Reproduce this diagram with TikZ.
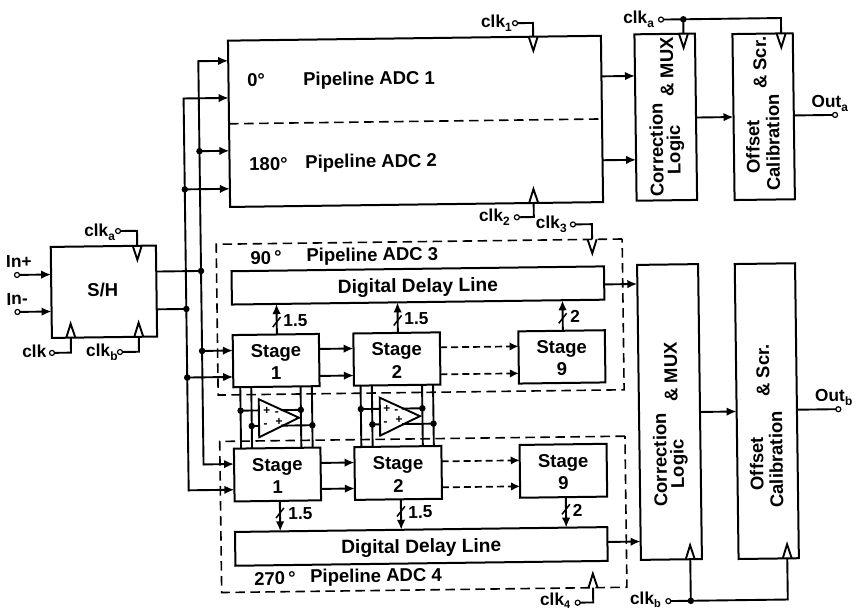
\documentclass[tikz,border=0pt]{standalone}
\usepackage{fontspec}
\setmainfont{Liberation Sans}
\usetikzlibrary{arrows.meta}
\newcommand\lowsub[1]{\raisebox{-4.5pt}{\fontsize{12}{12}\selectfont #1}}
\newcommand\lowsubb[1]{\raisebox{-3pt}{\fontsize{11}{11}\selectfont #1}}
\tikzset{
  wire/.style={line width=1.9pt},
  arr/.style={wire,-{Latex[length=10pt,width=8.5pt]}},
  darr/.style={line width=1.7pt,dash pattern=on 7pt off 4pt,-{Latex[length=9pt,width=8.5pt]}},
  blk/.style={draw,line width=2pt,inner sep=0pt,outer sep=0pt},
  stg/.style={inner sep=0pt,font=\fontsize{18.5}{22.5}\selectfont\bfseries,align=center},
  dashb/.style={line width=1.6pt,dash pattern=on 9.5pt off 5.5pt},
  dot/.style={circle,fill=black,inner sep=0pt,minimum size=6.5pt},
  term/.style={circle,draw,fill=white,line width=1.2pt,inner sep=0pt,minimum size=5pt,outer sep=0pt},
  lbl/.style={inner sep=0pt,font=\fontsize{18.5}{20}\selectfont\bfseries},
  ddl/.style={inner sep=0pt,font=\fontsize{19.2}{20}\selectfont\bfseries},
  sml/.style={inner sep=0pt,anchor=base west,font=\fontsize{17.3}{20}\selectfont\bfseries},
  vtxt/.style={inner sep=0pt,rotate=90,font=\fontsize{18.5}{20}\selectfont\bfseries},
  pm/.style={inner sep=0pt,font=\fontsize{12}{12}\selectfont\bfseries},
}
% open clock triangles: at named point, pointing down or up
\newcommand\clkdn[1]{\draw[wire,line join=miter] ([xshift=-4.5pt]#1) -- ([yshift=-14pt]#1) -- ([xshift=4.5pt]#1);}
\newcommand\clkup[1]{\draw[wire,line join=miter] ([xshift=-4.5pt]#1) -- ([yshift=14pt]#1) -- ([xshift=4.5pt]#1);}
\newcommand\tick[2]{\draw[line width=1.5pt] (#1-4,#2+5) -- (#1+4,#2-5);}
\begin{document}
\begin{tikzpicture}[x=1pt,y=-1pt]
\useasboundingbox (0,0) rectangle (857,610);
\begin{scope}[rotate around={0.745:(430,305)},transform shape]
% blocks: centre, size
\node[blk,minimum width=105.2pt,minimum height=91pt] (sh) at (104.1,287.5) {};
\node[lbl] at (103,286) {S/H};
\node[blk,minimum width=373pt,minimum height=166.3pt] (adc) at (417.9,121.2) {};
\node[blk,minimum width=372.5pt,minimum height=33.3pt] (ddu) at (418.2,285.3) {};
\node[blk,minimum width=372.3pt,minimum height=33.8pt] (ddl) at (418.2,546.3) {};
\node[blk,minimum width=86.2pt,minimum height=52.2pt] (s1u) at (275.4,358.6) {};
\node[blk,minimum width=86.5pt,minimum height=52.2pt] (s2u) at (396.2,358.6) {};
\node[blk,minimum width=86.5pt,minimum height=52.2pt] (s9u) at (561.2,358.6) {};
\node[blk,minimum width=86.5pt,minimum height=52.8pt] (s1l) at (275.3,472.5) {};
\node[blk,minimum width=87pt,minimum height=52.8pt] (s2l) at (396,472.5) {};
\node[blk,minimum width=87pt,minimum height=52.8pt] (s9l) at (561.2,472.5) {};
\node[stg] at ([yshift=-1.4pt]s1u.center) {Stage\\1};
\node[stg] at ([yshift=-1.4pt]s2u.center) {Stage\\2};
\node[stg] at ([yshift=-1.4pt]s9u.center) {Stage\\9};
\node[stg] at ([yshift=-1.4pt]s1l.center) {Stage\\1};
\node[stg] at ([yshift=-1.4pt]s2l.center) {Stage\\2};
\node[stg] at ([yshift=-1.4pt]s9l.center) {Stage\\9};
\node[blk,minimum width=60.5pt,minimum height=166.4pt] (cora) at (668.2,120.2) {};
\node[blk,minimum width=60.3pt,minimum height=166pt] (ofsa) at (766.1,121) {};
\node[blk,minimum width=61pt,minimum height=295pt] (corb) at (668.1,415.1) {};
\node[blk,minimum width=60.3pt,minimum height=295pt] (ofsb) at (765.4,415.5) {};
% dashed boxes
\node[draw,dashb,minimum width=406pt,minimum height=150.8pt,inner sep=0pt,outer sep=0pt] (adc3) at (420,316.9) {};
\node[draw,dashb,minimum width=405.3pt,minimum height=151.1pt,inner sep=0pt,outer sep=0pt] (adc4) at (420.6,514.25) {};
\draw[dashb] (adc.west) -- (adc.east);
% texts
\node[lbl,anchor=west] at (250,78) {0°};
\node[lbl,anchor=west] at (306,79.5) {Pipeline ADC 1};
\node[lbl,anchor=west] at (251,162) {180°};
\node[lbl,anchor=west] at (307,162) {Pipeline ADC 2};
\node[lbl,anchor=west] at (251,255.5) {90\,°};
\node[lbl,anchor=west] at (307,255.5) {Pipeline ADC 3};
\node[lbl,anchor=west] at (250.5,576.5) {270\,°};
\node[lbl,anchor=west] at (306.5,576.5) {Pipeline ADC 4};
\node[ddl] at ([yshift=-2pt]ddu.center) {Digital Delay Line};
\node[ddl] at ([yshift=-1.5pt]ddl.center) {Digital Delay Line};
\node[vtxt] at (658.5,153) {Correction};
\node[vtxt] at (677.5,153) {Logic};
\node[vtxt] at (670,70) {\&~MUX};
\node[vtxt] at (755,151) {Offset};
\node[vtxt] at (775,147) {Calibration};
\node[vtxt] at (763,67) {\&~Scr.};
\node[vtxt] at (658,463) {Correction};
\node[vtxt] at (677,467) {Logic};
\node[vtxt] at (670,375) {\&~MUX};
\node[vtxt] at (754.6,468) {Offset};
\node[vtxt] at (774,464) {Calibration};
\node[vtxt] at (762,375) {\&~Scr.};
\node[sml] at (6.5,262) {In+};
\node[sml] at (6.5,299.5) {In-};
\node[sml] at (85,231.7) {clk\lowsub{a}};
\node[sml] at (21.5,352) {clk};
\node[sml] at (85.3,351.8) {clk\lowsub{b}};
\node[sml] at (484.5,28) {clk\lowsub{1}};
\node[sml] at (480,222.4) {clk\lowsub{2}};
\node[sml] at (536.7,229.7) {clk\lowsub{3}};
\node[sml] at (536,607.4) {clk\lowsubb{4}};
\node[sml] at (626.7,25.8) {clk\lowsub{a}};
\node[sml] at (626,607) {clk\lowsubb{b}};
\node[sml] at (814,112.3) {Out\lowsub{a}};
\node[sml] at (813.7,406.7) {Out\lowsub{b}};
\node[sml,anchor=west] at (283,318.5) {1.5};
\node[sml,anchor=west] at (404,318.5) {1.5};
\node[sml,anchor=center] at (575,318.5) {2};
\node[sml,anchor=west] at (285.5,512) {1.5};
\node[sml,anchor=west] at (405.5,512) {1.5};
\node[sml,anchor=center] at (575,512) {2};
% terminals
\node[term] (inp) at (17.4,269.6) {};
\node[term] (inm) at (17.4,306.6) {};
\node[term] (tca) at (119,227) {};
\node[term] (tc) at (51.4,348) {};
\node[term] (tcb) at (119.4,348) {};
\node[term] (tc1) at (518.7,24.3) {};
\node[term] (tc2) at (518,218.4) {};
\node[term] (tc3) at (574,226.3) {};
\node[term] (tc4) at (573.8,604.6) {};
\node[term] (tcA) at (664.7,22.6) {};
\node[term] (tcB) at (664.5,604.2) {};
\node[term] (toa) at (837.5,120.2) {};
\node[term] (tob) at (837,414.5) {};
% S/H connections
\coordinate (shi1) at (51.5,269.6); \coordinate (shi2) at (51.5,306.6);
\draw[arr] (inp) -- (shi1);
\draw[arr] (inm) -- (shi2);
\coordinate (shca) at (138,242); \coordinate (shc) at (70.4,333); \coordinate (shcb) at (138.4,333);
\draw[wire] (tca) -| (shca); \clkdn{shca}
\draw[wire] (tc) -| (shc); \clkup{shc}
\draw[wire] (tcb) -| (shcb); \clkup{shcb}
\node[dot] (dr) at (201.5,268) {};
\node[dot] (dl) at (186.3,305.8) {};
\coordinate (sho1) at (156.7,268); \coordinate (sho2) at (156.7,305.8);
\draw[wire] (sho1) -- (dr.center);
\draw[wire] (sho2) -- (dl.center);
% buses
\node[dot] (dr1) at (201.5,148.2) {};
\node[dot] (dl1) at (186.3,186.2) {};
\node[dot] (dr2) at (201.5,348) {};
\node[dot] (dl2) at (186.3,374.4) {};
\coordinate (a1) at (231.4,58.2); \coordinate (a2) at (231.4,95.3);
\coordinate (a3) at (231.4,148.2); \coordinate (a4) at (231.4,186.2);
\coordinate (br) at (201.5,58.2); \coordinate (bl) at (186.3,95.3);
\coordinate (i1) at (232.3,348); \coordinate (i2) at (232.3,374.4);
\coordinate (i3) at (232,461.5); \coordinate (i4) at (232,487.2);
\coordinate (brb) at (201.5,461.5); \coordinate (blb) at (186.3,487.2);
\draw[arr] (brb) -- (i3);
\draw[arr] (blb) -- (i4);
\draw[arr] (br) -- (a1);
\draw[arr] (bl) -- (a2);
\draw[wire,line cap=rect] (br) -- (brb);
\draw[wire,line cap=rect] (bl) -- (blb);
\draw[arr] (dr1.center) -- (a3);
\draw[arr] (dl1.center) -- (a4);
\draw[arr] (dr2.center) -- (i1);
\draw[arr] (dl2.center) -- (i2);
% stage chain
\foreach \v in {347.5,374.5}{
  \draw[arr] (318.5,\v) -- (353,\v);
  \draw[darr] (439.5,\v) -- (518,\v);
}
\foreach \v in {461.5,487.5}{
  \draw[arr] (318.5,\v) -- (352.5,\v);
  \draw[darr] (439.5,\v) -- (517.7,\v);
}
% bit links
\foreach \u in {276.5,397.5,562.5}{
  \draw[arr] (\u,332.5) -- (\u,302);
  \tick{\u}{320}
  \draw[arr] (\u+.8,498.9) -- (\u+.8,529.4);
  \tick{\u+.8}{511}
}
% outputs
\coordinate (ao1) at (604.4,78.6); \coordinate (ai1) at (638,78.6);
\coordinate (ao2) at (604.4,162.5); \coordinate (ai2) at (638,162.5);
\draw[arr] (ao1) -- (ai1);
\draw[arr] (ao2) -- (ai2);
\coordinate (co1) at (698.5,121); \coordinate (oi1) at (736,121);
\draw[arr] (co1) -- (oi1);
\coordinate (oo1) at (796.3,120.2);
\draw[wire] (oo1) -- (toa);
\coordinate (du) at (604.5,286.7); \coordinate (dui) at (637.6,286.7);
\coordinate (dlo) at (604.4,544.3); \coordinate (dli) at (637.6,544.3);
\draw[arr] (du) -- (dui);
\draw[arr] (dlo) -- (dli);
\coordinate (co2) at (698.6,415.5); \coordinate (oi2) at (735.3,415.5);
\draw[arr] (co2) -- (oi2);
\coordinate (oo2) at (795.6,414.5);
\draw[wire] (oo2) -- (tob);
% clocks on ADCs
\coordinate (c1) at (536.7,38); \coordinate (c2) at (535,204.3);
\coordinate (c3) at (593,241.5); \coordinate (c4) at (589.4,589.8);
\draw[wire] (tc1) -| (c1); \clkdn{c1}
\draw[wire] (tc2) -| (c2); \clkup{c2}
\draw[wire] (tc3) -| (c3); \clkdn{c3}
\draw[wire] (tc4) -| (c4); \clkup{c4}
\node[dot] (dA) at (687,22.6) {};
\node[dot] (dB) at (687,604.2) {};
\coordinate (cA1) at (687,37); \coordinate (cA2) at (784.7,38);
\coordinate (cB1) at (687,562.6); \coordinate (cB2) at (784,563);
\draw[wire] (tcA) -- (dA.center);
\draw[wire] (dA.center) -- (cA1); \clkdn{cA1}
\draw[wire] (dA.center) -| (cA2); \clkdn{cA2}
\draw[wire] (tcB) -- (dB.center);
\draw[wire] (dB.center) -- (cB1); \clkup{cB1}
\draw[wire] (dB.center) -| (cB2); \clkup{cB2}
% amplifiers
\foreach \nm/\ul/\ull/\ur/\urr/\ax/\ay in {A/239.2/250.2/299.5/310.8/257.5/397,B/359.5/370.8/421/432/378.5/397}{
  \draw[wire] (\ax,\ay) -- (\ax,\ay+38) -- (\ax+40,\ay+19) -- cycle;
  \draw[wire] (\ul,384.7) -- (\ul,446);
  \draw[wire] (\ull,384.7) -- (\ull,446);
  \draw[wire] (\ur,384.7) -- (\ur,446);
  \draw[wire] (\urr,384.7) -- (\urr,446);
  \node[dot] (p\nm1) at (\ul,408.2) {};
  \node[dot] (p\nm2) at (\ull,423.7) {};
  \node[dot] (p\nm3) at (\ur,408.2) {};
  \node[dot] (p\nm4) at (\urr,423.7) {};
  \draw[wire] (p\nm1.center) -- (\ax,408.2);
  \draw[wire] (p\nm2.center) -- (\ax,423.7);
  \draw[wire] (\ax+22,408.2) -- (p\nm3.center);
  \draw[wire] (\ax+22,423.7) -- (p\nm4.center);
}
\node[pm] at (265.5,408.5) {+};
\node[pm] at (275.5,412) {-};
\node[pm] at (264,423) {-};
\node[pm] at (277.5,420) {+};
\node[pm] at (385.5,408.5) {+};
\node[pm] at (395,411) {-};
\node[pm] at (384,423) {-};
\node[pm] at (397.5,419.5) {+};
\end{scope}
\end{tikzpicture}
\end{document}
